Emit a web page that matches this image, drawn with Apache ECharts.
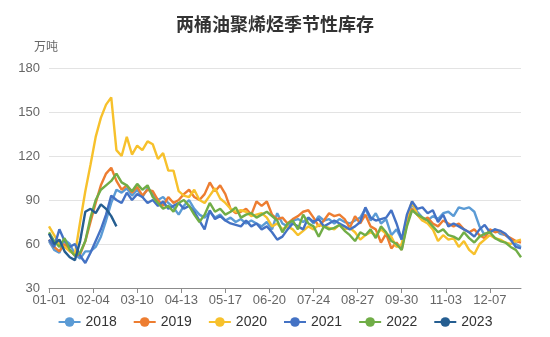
<!DOCTYPE html>
<html><head><meta charset="utf-8">
<script src="https://cdn.jsdelivr.net/npm/echarts@6/dist/echarts.min.js"></script>
<style>html,body{margin:0;padding:0;background:#fff}#c{width:550px;height:337px}</style>
</head><body><div id="c"></div>
<script>
const chartTitle = '两桶油聚烯烃季节性库存';
const unitName = '万吨';
const years = ['2018', '2019', '2020', '2021', '2022', '2023'];
const colors = ['#5b9bd5', '#ed7d31', '#f7c12c', '#4472c4', '#70ad47', '#255e91'];

// categories: every day of the year, MM-DD
const monthLengths = [31, 28, 31, 30, 31, 30, 31, 31, 30, 31, 30, 31];
const categories = [];
monthLengths.forEach((n, m) => {
  for (let d = 1; d <= n; d++) {
    categories.push(String(m + 1).padStart(2, '0') + '-' + String(d).padStart(2, '0'));
  }
});
const sampleStep = 4; // values below are read every 4th day, starting 01-01

const v2018 = [62,56,54,63,60,53,50,55,55,58, 65,76,88,97,95,98,93,97,92,98,
  94,90,92,88,85,80,86,90,84,80, 78,82,78,80,76,78,75,77,74,76,
  74,72,75,70,81,74,72,76,77,75, 78,74,79,76,77,74,77,75,74,76,
  78,84,76,81,74,77,66,70,63,76, 87,82,78,76,79,77,81,82,79,85,
  84,85,82,72,66,68,70,67,66,63, 60,58];
const v2019 = [63,58,55,60,56,52,53,62,75,88, 100,108,112,103,97,100,95,99,93,97,
  96,90,86,92,88,90,94,97,92,90, 94,102,96,100,94,84,81,82,84,80,
  89,86,89,80,77,78,74,77,79,82, 83,78,72,76,81,79,80,77,71,79,
  74,80,72,70,61,67,57,61,56,74, 84,80,76,78,74,72,76,74,72,74,
  70,68,70,66,64,70,68,69,66,64, 62,61];
const v2020 = [72,66,60,58,55,53,75,96,114,133, 146,155,160,124,120,133,121,127,124,130,
  128,118,122,110,110,96,93,92,97,90, 88,93,98,91,88,84,82,83,82,79,
  80,81,78,72,74,70,72,70,66,69, 72,70,73,72,71,70,73,70,71,68,
  63,66,68,66,70,67,65,58,60,78, 89,80,76,74,70,62,66,63,64,58,
  62,56,53,60,63,66,64,63,61,60, 62,63];
const v2021 = [63,58,70,62,58,60,52,47,54,62, 70,80,93,90,88,95,90,94,92,88,
  90,86,89,84,86,88,84,86,82,76, 70,83,77,79,76,74,73,72,76,72,
  74,70,72,68,63,65,70,74,72,70, 78,75,77,72,74,76,74,72,70,72,
  75,85,78,76,77,78,83,74,63,80, 89,84,85,81,83,75,80,72,74,72,
  70,68,65,70,73,68,70,69,67,63, 58,57];
const v2022 = [68,62,58,64,56,52,54,62,78,90, 97,100,103,108,102,100,96,101,97,100,
  92,88,84,86,82,88,90,86,80,75, 80,88,82,84,80,82,85,78,80,81,
  78,80,82,79,76,68,74,76,70,80, 74,72,65,72,70,71,73,69,66,62,
  68,66,70,64,72,68,62,60,56,72, 83,80,78,76,72,68,70,66,65,63,
  68,64,61,65,67,68,64,62,61,58, 56,51];
const v2023 = [67,60,63,55,51,49,62,82,84,81,87,84,79,72];

const yearValues = [v2018, v2019, v2020, v2021, v2022, v2023];
const yMin = 30, yMax = 180, yStep = 30;

const chart = echarts.init(document.getElementById('c'), null, {renderer: 'canvas'});
const fontFamily = '"Noto Sans CJK SC", "Noto Sans", "Liberation Sans", sans-serif';

chart.setOption({
  backgroundColor: '#ffffff',
  animation: false,
  textStyle: {fontFamily},
  title: {
    text: chartTitle, left: 'center', top: 10,
    textStyle: {fontSize: 18, fontWeight: 'bold', color: '#333333', fontFamily}
  },
  legend: {
    data: years, bottom: 3, left: 'center',
    itemWidth: 22, itemHeight: 12, itemGap: 16,
    textStyle: {fontSize: 14, color: '#333333', fontFamily: '"Liberation Sans", Arial, sans-serif'}
  },
  grid: {left: 49, right: 29, top: 68, bottom: 49, containLabel: false},
  xAxis: {
    type: 'category', data: categories, boundaryGap: false,
    axisLine: {lineStyle: {color: '#8c8c8c', width: 1}},
    axisTick: {show: true, interval: 33, length: 5, lineStyle: {color: '#8c8c8c'}},
    axisLabel: {interval: 33, color: '#666666', fontSize: 13, margin: 6, fontFamily: '"Liberation Sans", Arial, sans-serif'},
    splitLine: {show: false}
  },
  yAxis: {
    type: 'value', min: yMin, max: yMax, interval: yStep,
    name: unitName, nameLocation: 'end', nameGap: 16,
    nameTextStyle: {color: '#666666', fontSize: 12, align: 'center', padding: [0, 6, 0, 0]},
    axisLine: {show: false}, axisTick: {show: false},
    axisLabel: {color: '#666666', fontSize: 13, margin: 9, fontFamily: '"Liberation Sans", Arial, sans-serif'},
    splitLine: {lineStyle: {color: '#e3e3e3', width: 1}}
  },
  series: years.map((y, k) => ({
    name: y, type: 'line',
    data: yearValues[k].map((v, i) => [i * sampleStep, v]),
    showSymbol: false, symbol: 'circle', symbolSize: 8,
    lineStyle: {width: 2.4, color: colors[k]},
    itemStyle: {color: colors[k]},
    connectNulls: true
  }))
});
</script></body></html>
